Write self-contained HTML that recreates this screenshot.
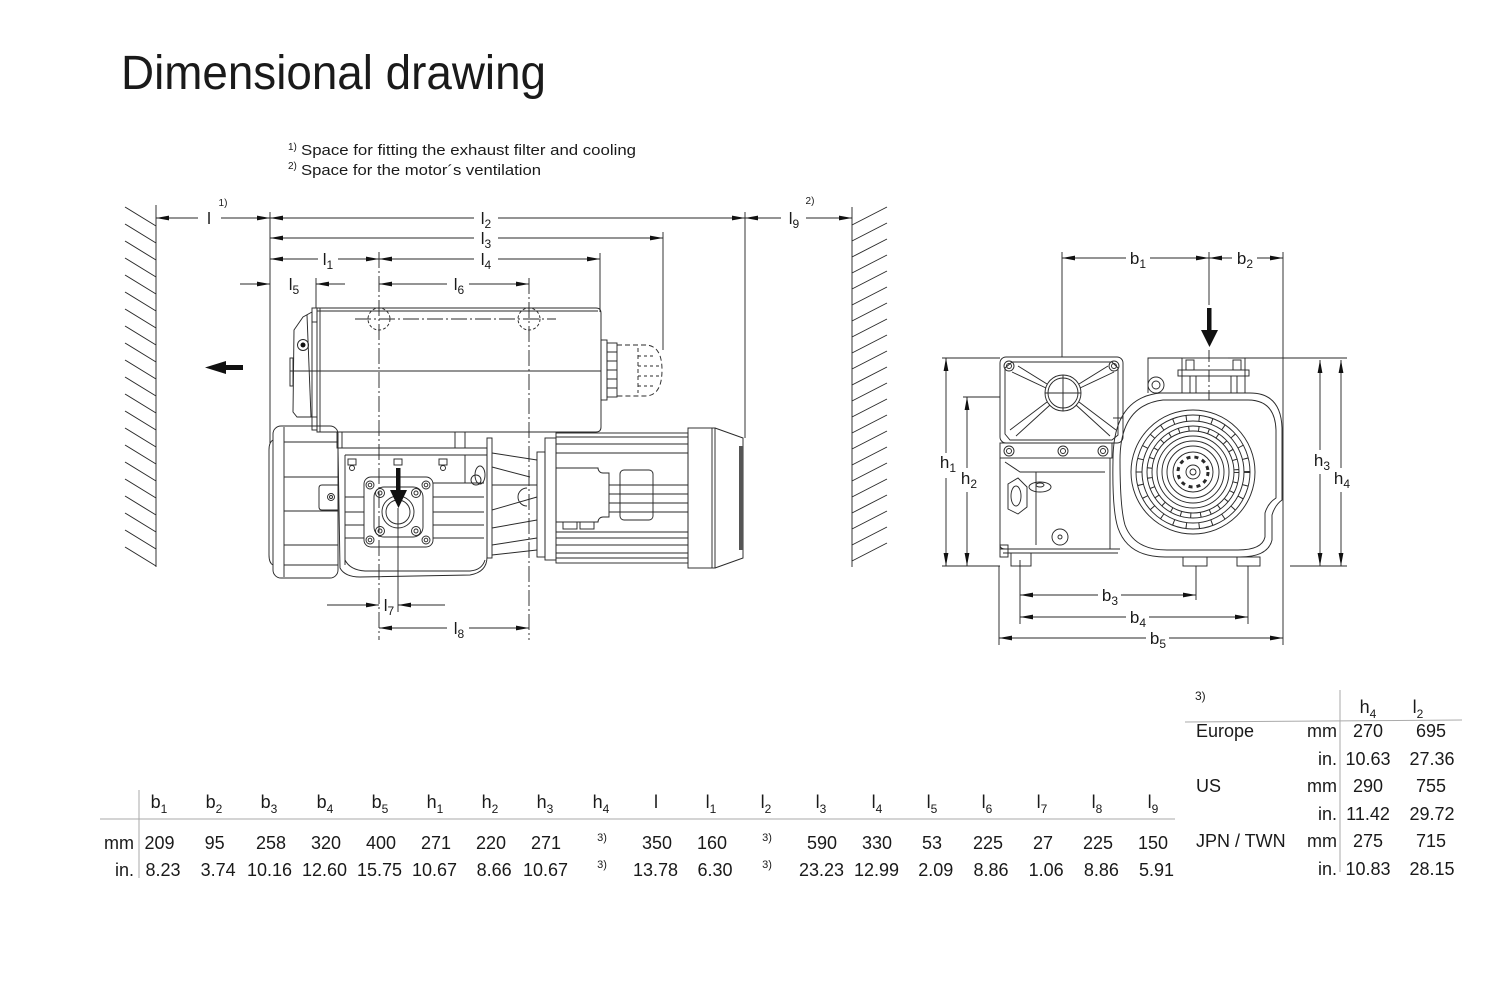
<!DOCTYPE html>
<html><head><meta charset="utf-8"><style>
html,body{margin:0;padding:0;background:#fff;}
svg{display:block;}
text{font-family:"Liberation Sans",Arial,sans-serif;fill:#1a1a1a;}
</style></head><body>
<svg width="1502" height="1002" viewBox="0 0 1502 1002" xmlns="http://www.w3.org/2000/svg">
<defs>
<marker id="ar" markerUnits="userSpaceOnUse" markerWidth="13" markerHeight="6" refX="13" refY="3" orient="auto"><path d="M0,0.6 L13,3 L0,5.4z" fill="#111"/></marker>
</defs>

<!-- Title & footnotes -->
<text x="121" y="89" font-size="48" textLength="425" lengthAdjust="spacingAndGlyphs">Dimensional drawing</text>
<text x="288" y="150" font-size="10">1)</text>
<text x="301" y="155" font-size="15" textLength="335" lengthAdjust="spacingAndGlyphs">Space for fitting the exhaust filter and cooling</text>
<text x="288" y="169" font-size="10">2)</text>
<text x="301" y="175" font-size="15" textLength="240" lengthAdjust="spacingAndGlyphs">Space for the motor´s ventilation</text>

<g stroke="#2a2a2a" stroke-width="0.95" fill="none">
<!-- Left wall -->
<line x1="156" y1="205" x2="156" y2="567"/>
<path d="M125,207 L156,226 M125,224 L156,243 M125,241 L156,260 M125,258 L156,277 M125,275 L156,294 M125,292 L156,311 M125,309 L156,328 M125,326 L156,345 M125,343 L156,362 M125,360 L156,379 M125,377 L156,396 M125,394 L156,413 M125,411 L156,430 M125,428 L156,447 M125,445 L156,464 M125,462 L156,481 M125,479 L156,498 M125,496 L156,515 M125,513 L156,532 M125,530 L156,549 M125,547 L156,566"/>
<!-- Right wall -->
<line x1="852" y1="207" x2="852" y2="567"/>
<path d="M852,225 L887,207 M852,241 L887,223 M852,257 L887,239 M852,273 L887,255 M852,289 L887,271 M852,305 L887,287 M852,321 L887,303 M852,337 L887,319 M852,353 L887,335 M852,369 L887,351 M852,385 L887,367 M852,401 L887,383 M852,417 L887,399 M852,433 L887,415 M852,449 L887,431 M852,465 L887,447 M852,481 L887,463 M852,497 L887,479 M852,513 L887,495 M852,529 L887,511 M852,545 L887,527 M852,561 L887,543"/>

<!-- Left extension lines -->
<line x1="270" y1="212" x2="270" y2="443"/>
<line x1="316" y1="278" x2="316" y2="308"/>
<line x1="600" y1="253" x2="600" y2="312"/>
<line x1="663" y1="232" x2="663" y2="350"/>
<line x1="745" y1="212" x2="745" y2="438"/>
<line x1="398" y1="508" x2="398" y2="612"/>
<line x1="379" y1="252" x2="379" y2="640" stroke-dasharray="16 3 2 3"/>
<line x1="529" y1="278" x2="529" y2="640" stroke-dasharray="16 3 2 3"/>

<!-- Left dimension lines -->
<g marker-end="url(#ar)">
<line x1="198" y1="218" x2="156" y2="218"/><line x1="221" y1="218" x2="270" y2="218"/>
<line x1="474" y1="218" x2="270" y2="218"/><line x1="498" y1="218" x2="745" y2="218"/>
<line x1="781" y1="218" x2="745" y2="218"/><line x1="806" y1="218" x2="852" y2="218"/>
<line x1="474" y1="238" x2="270" y2="238"/><line x1="498" y1="238" x2="663" y2="238"/>
<line x1="318" y1="259" x2="270" y2="259"/><line x1="338" y1="259" x2="379" y2="259"/>
<line x1="474" y1="259" x2="379" y2="259"/><line x1="498" y1="259" x2="600" y2="259"/>
<line x1="240" y1="284" x2="270" y2="284"/><line x1="345" y1="284" x2="316" y2="284"/>
<line x1="447" y1="284" x2="379" y2="284"/><line x1="469" y1="284" x2="529" y2="284"/>
<line x1="327" y1="605" x2="379" y2="605"/><line x1="445" y1="605" x2="398" y2="605"/>
<line x1="447" y1="628" x2="379" y2="628"/><line x1="469" y1="628" x2="529" y2="628"/>
</g>

<!-- Top housing -->
<path d="M317,308 H596 Q601,308 601,313 V427 Q601,432 596,432 H317 Z"/>
<line x1="320" y1="308" x2="320" y2="432"/>
<line x1="317" y1="311" x2="598" y2="311"/>
<line x1="290" y1="371" x2="601" y2="371"/>
<path d="M312,312 L303,317 L294,330 L293,412 L297,417 L312,417 Z"/>
<path d="M307,315 L311,417"/>
<rect x="312" y="308" width="5" height="14"/>
<rect x="312" y="417" width="5" height="13"/>
<rect x="290" y="358" width="3" height="28"/>
<circle cx="303" cy="345" r="5.5"/>
<circle cx="379" cy="319" r="11" stroke-dasharray="3 2"/>
<circle cx="529" cy="319" r="11" stroke-dasharray="3 2"/>
<line x1="355" y1="319" x2="556" y2="319" stroke-dasharray="16 3 2 3"/>
<!-- filter dashed -->
<rect x="601" y="340" width="6" height="60"/>
<rect x="607" y="343" width="10" height="54"/>
<path d="M607,352 H617 M607,361 H617 M607,370 H617 M607,379 H617 M607,388 H617"/>
<path d="M617,345 H645 Q662,345 662,370 Q662,396 645,396 H617" stroke-dasharray="5 3"/>
<line x1="638" y1="348" x2="638" y2="393" stroke-dasharray="4 3"/>
<path d="M638,356 H656 M638,366 H660 M638,376 H660 M638,386 H656" stroke-dasharray="3 3"/>

<!-- Left fan cover -->
<rect x="273" y="426" width="65" height="152" rx="8"/>
<line x1="284" y1="427" x2="284" y2="577"/>
<path d="M284,442 H338 M284,477 H338 M284,511 H338 M284,545 H338 M284,565 H338"/>
<path d="M273,440 Q269,442 269,450 V555 Q269,563 273,565"/>
<!-- support block -->
<rect x="337" y="432" width="128" height="16"/>
<path d="M342,432 V448 M455,432 V448"/>
<!-- pump housing -->
<path d="M338,448 H487 V557 Q487,572 470,575 L360,577 Q345,577 340,568 Z"/>
<line x1="345" y1="455" x2="487" y2="455"/>
<line x1="345" y1="455" x2="345" y2="565"/>
<path d="M345,560 Q350,570 365,571 H470 Q482,570 485,560"/>
<path d="M433,483 H484 M433,497 H484 M433,512 H484 M433,525 H484 M433,538 H484 M345,497 H364 M345,512 H364 M345,525 H364 M345,538 H364"/>
<path d="M465,455 V483"/>
<rect x="348" y="459" width="8" height="6"/><circle cx="352" cy="468" r="2.5"/>
<rect x="394" y="459" width="8" height="6"/>
<rect x="439" y="459" width="8" height="6"/><circle cx="443" cy="468" r="2.5"/>
<path d="M338,485 H322 Q319,485 319,488 V507 Q319,510 322,510 H338"/>
<circle cx="331" cy="497" r="3.5"/><circle cx="331" cy="497" r="1.5"/>
<!-- inlet flange -->
<rect x="364" y="477" width="69" height="70" rx="7"/>
<rect x="374" y="487" width="49" height="50" rx="10"/>
<circle cx="398" cy="512" r="16"/><circle cx="398" cy="512" r="12"/>
<circle cx="370" cy="485" r="4"/><circle cx="370" cy="485" r="1.8"/>
<circle cx="426" cy="485" r="4"/><circle cx="426" cy="485" r="1.8"/>
<circle cx="370" cy="540" r="4"/><circle cx="370" cy="540" r="1.8"/>
<circle cx="426" cy="540" r="4"/><circle cx="426" cy="540" r="1.8"/>
<circle cx="380" cy="493" r="4.5"/><circle cx="380" cy="493" r="2"/>
<circle cx="416" cy="493" r="4.5"/><circle cx="416" cy="493" r="2"/>
<circle cx="380" cy="531" r="4.5"/><circle cx="380" cy="531" r="2"/>
<circle cx="416" cy="531" r="4.5"/><circle cx="416" cy="531" r="2"/>
<!-- plate and lantern -->
<rect x="487" y="438" width="5" height="120"/>
<ellipse cx="480" cy="475" rx="5" ry="9"/><circle cx="476" cy="480" r="5"/>
<path d="M492,453 L537,460 M492,467 L530,477 M492,485 L537,485 M492,510 L537,497 M492,528 L537,520 M492,545 L537,538 M492,555 L537,550"/>
<path d="M527,488 A9,9 0 0 0 527,506"/>
<rect x="537" y="452" width="8" height="105"/>
<rect x="545" y="438" width="11" height="122"/>
<!-- motor -->
<rect x="556" y="433" width="132" height="130"/>
<path d="M556,437 H688 M556,444 H688 M556,453 H688 M609,485 H688 M609,494 H688 M609,503 H688 M609,512 H688 M556,532 H688 M556,538 H688 M556,545 H688 M556,553 H688 M556,558 H688"/>
<path d="M556,468 H598 A5,5 0 0 0 603,473 H609 V517 H603 A5,5 0 0 0 598,522 H556"/>
<rect x="620" y="470" width="33" height="50" rx="4"/>
<rect x="563" y="522" width="14" height="7"/><rect x="580" y="522" width="14" height="7"/>
<rect x="688" y="428" width="27" height="140"/>
<line x1="712" y1="428" x2="712" y2="568"/>
<path d="M715,428 L743,438 V558 L715,568"/>
</g>
<rect x="739" y="446" width="4" height="104" fill="#555"/>
<circle cx="303" cy="345" r="2.5" fill="#111"/>
<!-- arrows black -->
<rect x="396" y="468" width="4.5" height="24" fill="#111"/>
<polygon points="390,490 407,490 398.5,508" fill="#111"/>
<rect x="224" y="365" width="19" height="5" fill="#111"/>
<polygon points="205,367.5 226,361 226,374" fill="#111"/>

<!-- Left labels -->
<g font-size="17" text-anchor="middle">
<text x="209" y="224">l</text>
<text x="223" y="206" font-size="10">1)</text>
<text x="486" y="224">l<tspan font-size="12" dy="4">2</tspan></text>
<text x="794" y="224">l<tspan font-size="12" dy="4">9</tspan></text>
<text x="810" y="204" font-size="10">2)</text>
<text x="486" y="244">l<tspan font-size="12" dy="4">3</tspan></text>
<text x="328" y="265">l<tspan font-size="12" dy="4">1</tspan></text>
<text x="486" y="265">l<tspan font-size="12" dy="4">4</tspan></text>
<text x="294" y="290">l<tspan font-size="12" dy="4">5</tspan></text>
<text x="459" y="290">l<tspan font-size="12" dy="4">6</tspan></text>
<text x="389" y="611">l<tspan font-size="12" dy="4">7</tspan></text>
<text x="459" y="634">l<tspan font-size="12" dy="4">8</tspan></text>
</g>

<!-- Right drawing -->
<g stroke="#2a2a2a" stroke-width="0.95" fill="none">
<line x1="1062" y1="252" x2="1062" y2="357"/>
<line x1="1209" y1="252" x2="1209" y2="305"/>
<line x1="1209" y1="350" x2="1209" y2="400" stroke-dasharray="12 3 2 3"/>
<line x1="1283" y1="252" x2="1283" y2="645"/>
<path d="M942,358 H1000 M1228,358 H1347 M942,566 H1000 M1290,566 H1347 M963,397 H1000"/>
<path d="M999,566 V645 M1020,560 V624 M1196,566 V600 M1248,566 V624"/>
<g marker-end="url(#ar)">
<line x1="1126" y1="258" x2="1062" y2="258"/><line x1="1150" y1="258" x2="1209" y2="258"/>
<line x1="1232" y1="258" x2="1209" y2="258"/><line x1="1257" y1="258" x2="1283" y2="258"/>
<line x1="1098" y1="595" x2="1020" y2="595"/><line x1="1121" y1="595" x2="1196" y2="595"/>
<line x1="1126" y1="617" x2="1020" y2="617"/><line x1="1149" y1="617" x2="1248" y2="617"/>
<line x1="1146" y1="638" x2="999" y2="638"/><line x1="1169" y1="638" x2="1283" y2="638"/>
<line x1="946" y1="453" x2="946" y2="358"/><line x1="946" y1="478" x2="946" y2="566"/>
<line x1="967" y1="468" x2="967" y2="397"/><line x1="967" y1="492" x2="967" y2="566"/>
<line x1="1320" y1="450" x2="1320" y2="360"/><line x1="1320" y1="474" x2="1320" y2="566"/>
<line x1="1341" y1="468" x2="1341" y2="360"/><line x1="1341" y1="492" x2="1341" y2="566"/>
</g>
<!-- left box -->
<rect x="1000" y="357" width="123" height="86" rx="6"/>
<path d="M1012,362 H1112 L1118,368 V435 L1112,440 H1010 L1005,434 V368 Z"/>
<circle cx="1009" cy="366" r="5"/><circle cx="1009" cy="366" r="2.5"/>
<circle cx="1114" cy="366" r="5"/><circle cx="1114" cy="366" r="2.5"/>
<circle cx="1063" cy="393" r="18"/><circle cx="1063" cy="393" r="15"/>
<path d="M1063,375 V411 M1045,393 H1081"/>
<path d="M1047,384 L1018,366 M1046,388 L1012,372 M1047,402 L1010,430 M1050,405 L1016,436 M1079,384 L1108,366 M1080,388 L1114,372 M1079,402 L1116,430 M1076,405 L1110,436"/>
<rect x="1000" y="443" width="112" height="15"/>
<circle cx="1009" cy="451" r="5"/><circle cx="1009" cy="451" r="2.5"/>
<circle cx="1063" cy="451" r="5"/><circle cx="1063" cy="451" r="2.5"/>
<circle cx="1103" cy="451" r="5"/><circle cx="1103" cy="451" r="2.5"/>
<path d="M1000,458 V545 Q1000,549 1005,549 H1110 V458"/>
<path d="M1005,462 L1020,472 H1105 M1036,472 V545"/>
<path d="M1008,484 L1018,478 L1027,487 V507 L1018,514 L1008,509 Z"/>
<ellipse cx="1016" cy="496" rx="5" ry="10"/>
<ellipse cx="1040" cy="487" rx="11" ry="5"/><ellipse cx="1040" cy="485" rx="4" ry="2"/>
<circle cx="1060" cy="537" r="8"/><circle cx="1060" cy="537" r="2"/>
<path d="M1000,549 H1120 M1003,553 H1118"/>
<rect x="1011" y="553" width="20" height="13"/>
<rect x="1183" y="557" width="24" height="9"/>
<rect x="1237" y="557" width="23" height="9"/>
<rect x="1000" y="545" width="8" height="12"/>
<!-- big housing -->
<path d="M1160,393 H1250 Q1281,393 1282,428 V500 Q1275,505 1272,515 V540 Q1268,557 1240,557 H1165 Q1128,557 1118,528 Q1112,510 1113,460 Q1113,398 1160,393 Z"/>
<path d="M1163,400 H1248 Q1275,400 1276,430 V498 Q1268,503 1265,513 V537 Q1262,550 1238,550 H1167 Q1134,550 1125,525 Q1120,508 1120,460 Q1120,405 1163,400 Z"/>
<line x1="1113" y1="418" x2="1123" y2="418"/>
<!-- top flange -->
<rect x="1182" y="358" width="63" height="35"/>
<rect x="1178" y="370" width="71" height="6"/>
<path d="M1190,376 V393 M1196,376 V393 M1231,376 V393 M1237,376 V393"/>
<rect x="1186" y="360" width="8" height="10"/><rect x="1233" y="360" width="8" height="10"/>
<path d="M1148,393 V358 H1182"/>
<circle cx="1156" cy="385" r="8"/><circle cx="1156" cy="385" r="4"/>
<!-- fan grille -->
<circle cx="1193" cy="472" r="62"/>
<circle cx="1193" cy="472" r="57"/>
<circle cx="1193" cy="472" r="51"/>
<circle cx="1193" cy="472" r="54" stroke-width="6" stroke-dasharray="1 12"/>
<circle cx="1193" cy="472" r="46"/>
<circle cx="1193" cy="472" r="41"/>
<circle cx="1193" cy="472" r="43.5" stroke-width="5" stroke-dasharray="1 9"/>
<circle cx="1193" cy="472" r="36"/>
<circle cx="1193" cy="472" r="31"/>
<circle cx="1193" cy="472" r="26"/>
<circle cx="1193" cy="472" r="20"/>
<circle cx="1193" cy="472" r="15" stroke-width="3" stroke-dasharray="4 4"/>
<circle cx="1193" cy="472" r="7"/>
<circle cx="1193" cy="472" r="3"/>
</g>
<rect x="1207" y="308" width="4.5" height="24" fill="#111"/>
<polygon points="1201,330 1218,330 1209.5,347" fill="#111"/>

<g font-size="17" text-anchor="middle">
<text x="1138" y="264">b<tspan font-size="12" dy="4">1</tspan></text>
<text x="1245" y="264">b<tspan font-size="12" dy="4">2</tspan></text>
<text x="1110" y="601">b<tspan font-size="12" dy="4">3</tspan></text>
<text x="1138" y="623">b<tspan font-size="12" dy="4">4</tspan></text>
<text x="1158" y="644">b<tspan font-size="12" dy="4">5</tspan></text>
<text x="948" y="468">h<tspan font-size="12" dy="4">1</tspan></text>
<text x="969" y="484">h<tspan font-size="12" dy="4">2</tspan></text>
<text x="1322" y="466">h<tspan font-size="12" dy="4">3</tspan></text>
<text x="1342" y="484">h<tspan font-size="12" dy="4">4</tspan></text>
</g>

<!-- Bottom table -->
<line x1="100" y1="819" x2="1175" y2="819" stroke="#aaa" stroke-width="1"/>
<line x1="139" y1="790" x2="139" y2="878" stroke="#aaa" stroke-width="1"/>
<g font-size="18" text-anchor="middle">
<text x="159" y="808">b<tspan font-size="12" dy="5">1</tspan></text>
<text x="214" y="808">b<tspan font-size="12" dy="5">2</tspan></text>
<text x="269" y="808">b<tspan font-size="12" dy="5">3</tspan></text>
<text x="325" y="808">b<tspan font-size="12" dy="5">4</tspan></text>
<text x="380" y="808">b<tspan font-size="12" dy="5">5</tspan></text>
<text x="435" y="808">h<tspan font-size="12" dy="5">1</tspan></text>
<text x="490" y="808">h<tspan font-size="12" dy="5">2</tspan></text>
<text x="545" y="808">h<tspan font-size="12" dy="5">3</tspan></text>
<text x="601" y="808">h<tspan font-size="12" dy="5">4</tspan></text>
<text x="656" y="808">l</text>
<text x="711" y="808">l<tspan font-size="12" dy="5">1</tspan></text>
<text x="766" y="808">l<tspan font-size="12" dy="5">2</tspan></text>
<text x="821" y="808">l<tspan font-size="12" dy="5">3</tspan></text>
<text x="877" y="808">l<tspan font-size="12" dy="5">4</tspan></text>
<text x="932" y="808">l<tspan font-size="12" dy="5">5</tspan></text>
<text x="987" y="808">l<tspan font-size="12" dy="5">6</tspan></text>
<text x="1042" y="808">l<tspan font-size="12" dy="5">7</tspan></text>
<text x="1097" y="808">l<tspan font-size="12" dy="5">8</tspan></text>
<text x="1153" y="808">l<tspan font-size="12" dy="5">9</tspan></text>

<text x="159.5" y="849">209</text>
<text x="214.7" y="849">95</text>
<text x="271" y="849">258</text>
<text x="326" y="849">320</text>
<text x="381" y="849">400</text>
<text x="436" y="849">271</text>
<text x="491" y="849">220</text>
<text x="546" y="849">271</text>
<text x="602" y="841" font-size="11">3)</text>
<text x="657" y="849">350</text>
<text x="712" y="849">160</text>
<text x="767" y="841" font-size="11">3)</text>
<text x="822" y="849">590</text>
<text x="877" y="849">330</text>
<text x="932" y="849">53</text>
<text x="988" y="849">225</text>
<text x="1043" y="849">27</text>
<text x="1098" y="849">225</text>
<text x="1153" y="849">150</text>
<text x="602" y="868" font-size="11">3)</text>
<text x="767" y="868" font-size="11">3)</text>
</g>
<g font-size="18" text-anchor="end">
<text x="134" y="849">mm</text>
<text x="134" y="876">in.</text>
<text x="180.5" y="876">8.23</text>
<text x="235.7" y="876">3.74</text>
<text x="292" y="876">10.16</text>
<text x="347" y="876">12.60</text>
<text x="402" y="876">15.75</text>
<text x="457" y="876">10.67</text>
<text x="511.7" y="876">8.66</text>
<text x="568" y="876">10.67</text>
<text x="678" y="876">13.78</text>
<text x="732.5" y="876">6.30</text>
<text x="844" y="876">23.23</text>
<text x="899" y="876">12.99</text>
<text x="953.3" y="876">2.09</text>
<text x="1008.5" y="876">8.86</text>
<text x="1063.7" y="876">1.06</text>
<text x="1118.9" y="876">8.86</text>
<text x="1174" y="876">5.91</text>
</g>

<!-- Right table -->
<text x="1195" y="700" font-size="12">3)</text>
<line x1="1185" y1="722" x2="1462" y2="720" stroke="#aaa" stroke-width="1"/>
<line x1="1340" y1="690" x2="1340" y2="872" stroke="#aaa" stroke-width="1"/>
<g font-size="18">
<text x="1368" y="713" text-anchor="middle">h<tspan font-size="12" dy="5">4</tspan></text>
<text x="1418" y="713" text-anchor="middle">l<tspan font-size="12" dy="5">2</tspan></text>
<text x="1196" y="737">Europe</text>
<text x="1196" y="792">US</text>
<text x="1196" y="847">JPN / TWN</text>
<g text-anchor="end">
<text x="1337" y="737">mm</text>
<text x="1337" y="765">in.</text>
<text x="1337" y="792">mm</text>
<text x="1337" y="820">in.</text>
<text x="1337" y="847">mm</text>
<text x="1337" y="875">in.</text>
</g>
<g text-anchor="middle">
<text x="1368" y="737">270</text><text x="1431" y="737">695</text>
<text x="1368" y="765">10.63</text><text x="1432" y="765">27.36</text>
<text x="1368" y="792">290</text><text x="1431" y="792">755</text>
<text x="1368" y="820">11.42</text><text x="1432" y="820">29.72</text>
<text x="1368" y="847">275</text><text x="1431" y="847">715</text>
<text x="1368" y="875">10.83</text><text x="1432" y="875">28.15</text>
</g>
</g>
</svg>
</body></html>
